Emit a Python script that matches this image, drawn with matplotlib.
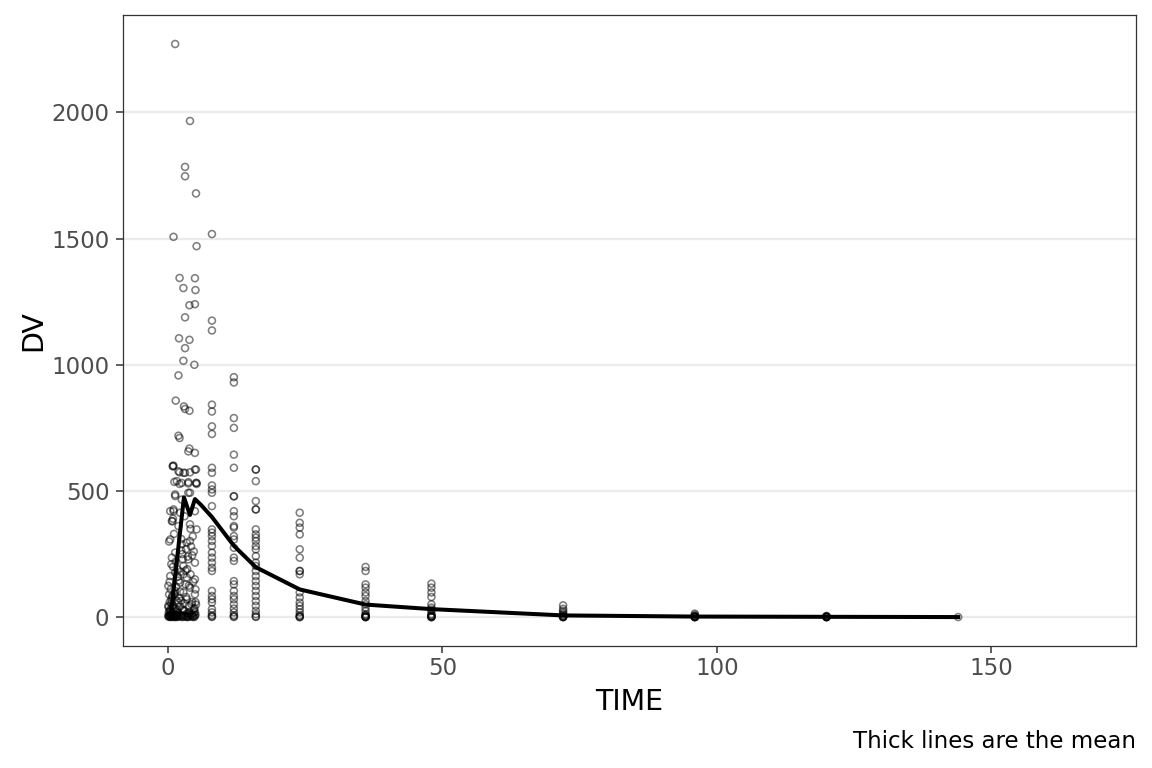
import numpy as np
import matplotlib.pyplot as plt

# early samples (0-5 h)
early_time = [1.3, 4.0, 3.1, 3.1, 5.1, 1.0, 5.2, 2.1, 4.9, 2.8, 5.0, 3.9, 4.9, 3.1, 2.0, 3.9,
              3.1, 2.8, 4.8, 1.9, 1.4, 2.9, 3.1, 3.9, 1.9, 2.1, 3.9, 3.7, 4.9, 0.85, 0.95,
              2.1, 2.8, 5.1, 1.15, 2.1, 3.7, 5.1, 5.2, 4.0, 1.3, 1.0, 0.97, 1.9, 3.1, 4.0,
              4.9, 1.6, 2.5, 3.7, 5.2, 1.3, 2.5, 3.7, 1.0, 0.4, 2.2, 4.9, 0.7, 1.9, 4.0,
              5.2, 0.4, 4.0, 2.5, 1.3, 0.7, 3.7, 4.9, 2.8, 1.3, 0.4, 3.4, 4.9, 2.2, 0.05,
              4.0, 1.3, 2.8, 4.9, 0.7, 3.4, 1.9, 4.3, 0.05, 1.0, 2.8, 4.9, 0.4, 1.6, 3.7,
              0.05, 0.2, 0.9, 0.8, 2.6, 3.3, 4.5, 1.7, 0.3, 0.6, 1.1, 2.4, 3.0, 3.6, 4.2,
              4.7, 0.2, 0.5, 0.9, 1.4, 1.8, 2.3, 2.7, 3.2, 3.5, 4.1, 4.6, 5.0, 0.1, 0.3,
              0.6, 0.8, 1.2, 1.5, 2.0, 2.4, 2.9, 3.3, 3.8, 4.4, 4.8, 5.1, 0.15, 0.35, 0.55,
              0.75, 1.05, 1.25, 1.45, 1.65, 1.85, 2.2, 2.6, 3.0, 3.4, 3.9, 4.3, 4.7, 5.0,
              0.1, 0.25, 0.45, 0.65, 0.9, 1.1, 1.35, 1.55, 1.8, 2.1, 2.5, 2.9, 3.3, 3.7,
              4.1, 4.5, 4.9, 0.3, 0.5, 0.7, 1.0, 1.2, 1.6, 2.0, 2.3, 2.7, 3.1, 3.5, 4.0,
              4.4, 4.8, 0.2, 0.4, 0.8, 1.3, 1.7, 2.6, 3.6, 4.6,
              0.6, 1.2, 1.9, 2.4, 3.2, 3.8, 4.4, 5.0, 0.3, 0.9, 1.5, 2.2, 2.8, 3.4, 4.1, 4.7]
early_dv = [2271, 1966, 1784, 1747, 1679, 1507, 1470, 1344, 1343, 1304, 1296, 1236, 1240, 1188,
            1105, 1099, 1066, 1016, 1000, 958, 858, 835, 825, 818, 719, 710, 668, 657, 651,
            598, 598, 574, 572, 585, 536, 528, 535, 532, 528, 493, 480, 420, 601, 578, 572,
            574, 585, 539, 532, 530, 532, 486, 466, 493, 427, 420, 414, 420, 381, 361, 368,
            348, 308, 302, 289, 256, 236, 229, 216, 203, 177, 163, 157, 150, 137, 124, 117,
            104, 98, 91, 78, 71, 58, 51, 45, 32, 25, 21, 12, 8, 15,
            3, 300, 390, 380, 250, 270, 320, 190, 140, 210, 330, 310, 400, 240, 280,
            260, 90, 110, 200, 220, 160, 180, 230, 130, 190, 170, 140, 110, 40, 60,
            70, 85, 95, 120, 75, 65, 55, 80, 45, 60, 35, 50, 20, 30, 25,
            40, 15, 35, 22, 28, 18, 42, 30, 26, 14, 20, 12, 16, 10, 8,
            5, 10, 8, 12, 6, 9, 4, 7, 10, 5, 8, 3, 6, 9,
            4, 7, 5, 2, 3, 4, 1, 3, 2, 5, 2, 3, 1, 2, 4,
            1, 2, 0.5, 1, 0.5, 1, 0.5, 0.5, 1,
            55, 88, 145, 265, 185, 125, 245, 60, 25, 48, 66, 102, 170, 295, 350, 30]

# later nominal sampling times and concentrations
col_8 = [1518, 1175, 1136, 842, 815, 756, 726, 592, 572, 522, 506, 493, 440, 348, 335, 321,
         302, 282, 256, 236, 216, 196, 183, 104, 84, 71, 58, 32, 19, 8, 3, 1]
col_12 = [951, 930, 789, 750, 644, 592, 479, 479, 420, 400, 361, 355, 321, 308, 275, 236,
          223, 143, 130, 104, 84, 71, 51, 34, 19, 8, 3, 1]
col_16 = [585, 585, 539, 460, 427, 427, 348, 328, 315, 302, 282, 269, 242, 216, 203, 183,
          163, 143, 124, 104, 84, 64, 45, 25, 12, 3, 1]
col_24 = [414, 374, 355, 328, 269, 236, 183, 183, 170, 98, 78, 58, 45, 32, 19, 8, 3, 1, 0]
col_36 = [199, 183, 130, 117, 98, 84, 64, 51, 38, 25, 12, 8, 5, 3, 1, 0.5, 0]
col_48 = [133, 117, 98, 80, 51, 38, 30, 25, 12, 8, 5, 3, 1, 0.5, 0]
col_72 = [47, 33, 25, 18, 12, 8, 4, 2, 1, 0.5, 0]
col_96 = [14, 9, 5, 3, 2, 1, 0.5, 0.2, 0]
col_120 = [5, 3, 2, 1, 0.5, 0.2, 0]
col_144 = [0.5]
late_times = [8, 12, 16, 24, 36, 48, 72, 96, 120, 144]
late_cols = [col_8, col_12, col_16, col_24, col_36, col_48, col_72, col_96, col_120, col_144]

# mean profile (thick line)
mean_time = [0.5, 1, 2, 2.9, 4, 4.9, 6, 8, 12, 16, 24, 36, 48, 72, 96, 120, 144]
mean_dv = [8, 105, 300, 475, 405, 468, 445, 397, 283, 198, 110, 50, 32, 7, 2.5, 1.5, 0.5]

time = list(early_time)
dv = list(early_dv)
for t, vals in zip(late_times, late_cols):
    time += [t] * len(vals)
    dv += vals

fig = plt.figure(figsize=(11.52, 7.68), dpi=100)
ax = fig.add_axes([0.1068, 0.1589, 0.8793, 0.8216])

ax.scatter(time, dv, s=25, facecolors='none', edgecolors=(0, 0, 0, 0.5), linewidths=1.15, zorder=3)
ax.plot(mean_time, mean_dv, color='black', linewidth=2.9, zorder=4)

ax.set_xlim(-8.2, 176.4)
ax.set_ylim(-114, 2386)
ax.set_xticks([0, 50, 100, 150])
ax.set_yticks([0, 500, 1000, 1500, 2000])
ax.yaxis.grid(True, color='#EBEBEB', linewidth=1.6)
ax.set_axisbelow(True)
for s in ax.spines.values():
    s.set_color('#333333')
    s.set_linewidth(0.9)
ax.tick_params(colors='#333333', length=5.3, width=1.1, labelsize=16.5, labelcolor='#4D4D4D')
ax.tick_params(axis='x', pad=3)
ax.tick_params(axis='y', pad=4.5)

ax.set_xlabel('TIME', fontsize=20.5, labelpad=5.5)
ax.set_ylabel('DV', fontsize=20.5, labelpad=3)
fig.text(0.9861, 20.3 / 768, 'Thick lines are the mean', ha='right', va='baseline', fontsize=16.5)

fig.savefig('out.png', dpi=100)
